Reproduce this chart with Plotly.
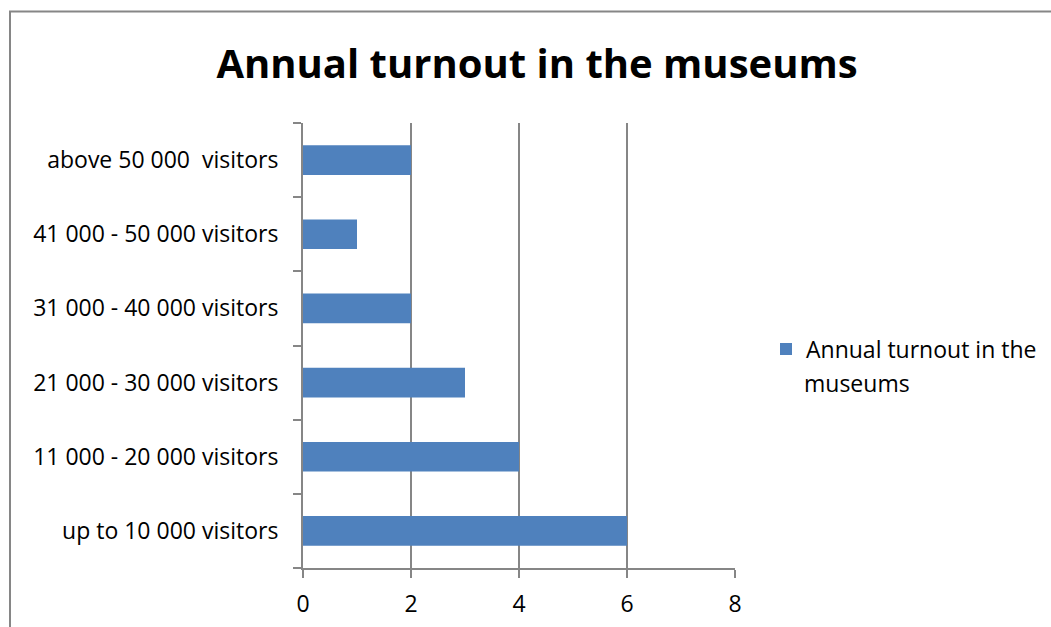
import plotly.graph_objects as go

# Visitor-count bands (bottom to top) and number of museums in each
categories = [
    "up to 10 000 visitors",
    "11 000 - 20 000 visitors",
    "21 000 - 30 000 visitors",
    "31 000 - 40 000 visitors",
    "41 000 - 50 000 visitors",
    "above 50 000\u00a0 visitors",
]
museums = [6, 4, 3, 2, 1, 2]
legend_line1 = "Annual turnout in the"
legend_line2 = "museums"
x_ticks = [0, 2, 4, 6, 8]

W, H = 1051, 627
L, R, T, B = 303, 735, 123, 568  # plot-area pixel edges


def px_x(p):
    return (p - L) / (R - L)


def px_y(p):
    return (B - p) / (B - T)


FONT = "Open Sans, Carlito, Calibri, sans-serif"
GRAY = "#868686"
FS = 23

fig = go.Figure(
    go.Bar(
        y=categories,
        x=museums,
        orientation="h",
        name=legend_line1,
        marker=dict(color="#4F81BD", line=dict(width=0)),
        showlegend=True,
    )
)

fig.update_layout(
    width=W,
    height=H,
    margin=dict(l=L, r=W - R, t=T, b=H - B, pad=0, autoexpand=False),
    paper_bgcolor="white",
    plot_bgcolor="white",
    bargap=0.6,
    font=dict(family=FONT, size=FS, color="#000000"),
    title=dict(
        text="<b>Annual turnout in the museums</b>",
        font=dict(family=FONT, size=40, color="#000000"),
        x=537 / W,
        xanchor="center",
        xref="container",
        y=1 - 64 / H,
        yanchor="middle",
        yref="container",
    ),
    xaxis=dict(
        range=[0, 8],
        tickvals=x_ticks,
        ticktext=[str(v) for v in x_ticks],
        showgrid=True,
        gridcolor=GRAY,
        gridwidth=1.5,
        zeroline=False,
        showline=True,
        linecolor=GRAY,
        linewidth=2,
        ticks="outside",
        ticklen=8,
        tickwidth=2,
        tickcolor=GRAY,
        ticklabelstandoff=6,
        tickfont=dict(size=FS),
        automargin=False,
        fixedrange=True,
    ),
    yaxis=dict(
        type="category",
        categoryorder="array",
        categoryarray=categories,
        tickson="boundaries",
        showgrid=False,
        zeroline=False,
        showline=True,
        linecolor=GRAY,
        linewidth=2,
        ticks="outside",
        ticklen=8,
        tickwidth=2,
        tickcolor=GRAY,
        ticklabelstandoff=18,
        tickfont=dict(size=FS),
        automargin=False,
        fixedrange=True,
    ),
    legend=dict(
        x=px_x(766),
        xanchor="left",
        y=px_y(349),
        yanchor="middle",
        valign="middle",
        font=dict(family=FONT, size=FS),
        bgcolor="rgba(0,0,0,0)",
        itemclick=False,
    ),
    annotations=[
        dict(
            text=legend_line2,
            xref="paper",
            yref="paper",
            x=px_x(802),
            y=px_y(383),
            xanchor="left",
            yanchor="middle",
            showarrow=False,
            font=dict(family=FONT, size=FS, color="#000000"),
        )
    ],
    shapes=[
        dict(
            type="rect",
            xref="paper",
            yref="paper",
            x0=px_x(10),
            x1=px_x(1070),
            y0=px_y(650),
            y1=px_y(11.5),
            line=dict(color=GRAY, width=2),
            fillcolor="rgba(0,0,0,0)",
            layer="below",
        )
    ],
)

fig.write_html("out.html")
